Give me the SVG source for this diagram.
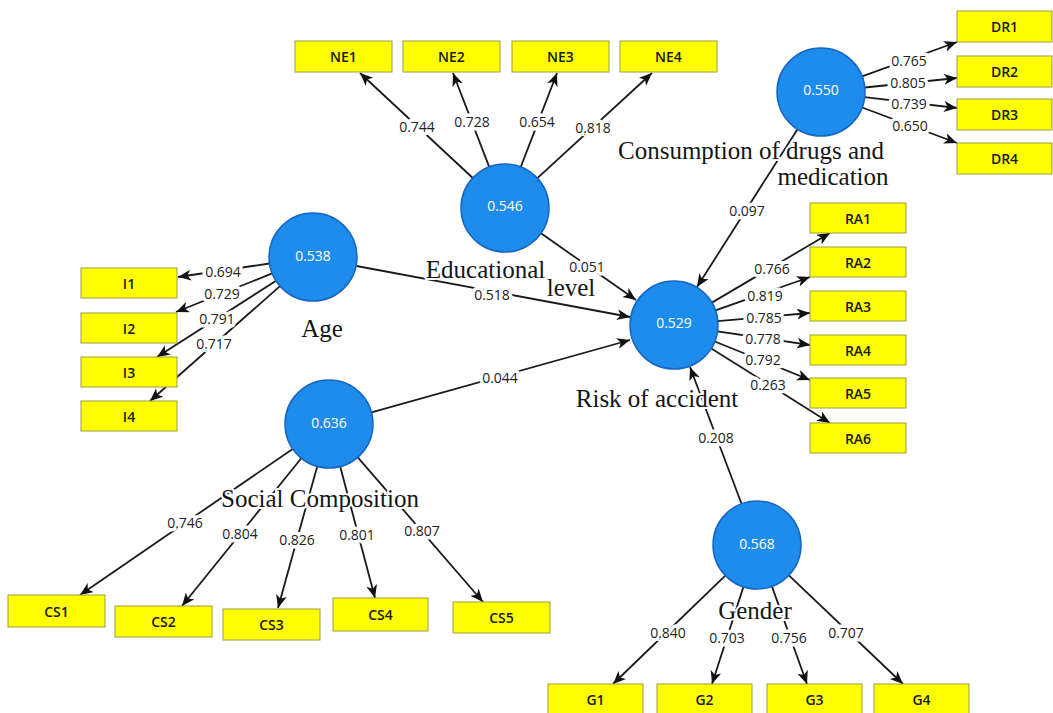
<svg xmlns="http://www.w3.org/2000/svg" width="1053" height="713" viewBox="0 0 1053 713">
<style>
.bg{fill:#ffffff}
.box{fill:#ffff00;stroke:#9c9c48;stroke-width:1}
.bt{font-family:"Open Sans","Noto Sans",sans-serif;font-size:14px;font-weight:600;fill:#1a1a1a;text-anchor:middle;dominant-baseline:central}
.lv{fill:#1e8ced;stroke:#1666c4;stroke-width:1.5}
.vt{font-family:"Open Sans","Noto Sans",sans-serif;font-size:14px;fill:#ffffff;text-anchor:middle;dominant-baseline:central}
.nm{font-family:"Liberation Serif","DejaVu Serif",serif;font-size:25px;fill:#151515;text-anchor:middle;paint-order:stroke;stroke:#ffffff;stroke-width:4;stroke-linejoin:round}
.c{stroke:#1a1a1a;stroke-width:1.8;fill:none;marker-end:url(#ah)}
.ld{font-family:"Open Sans","Noto Sans",sans-serif;font-size:14px;fill:#222;text-anchor:middle;dominant-baseline:central;paint-order:stroke;stroke:#ffffff;stroke-width:7;stroke-linejoin:round}
</style>
<defs>
<marker id="ah" markerUnits="userSpaceOnUse" markerWidth="14" markerHeight="12" refX="13" refY="5.5" orient="auto">
<path d="M0,0 L13,5.5 L0,11 L3.5,5.5 z" fill="#111"/>
</marker>
</defs>
<rect class="bg" x="0" y="0" width="1053" height="713"/>
<g id="connectors">
<line class="c" x1="472.8" y1="178" x2="360" y2="73"/>
<line class="c" x1="489.2" y1="166.9" x2="453" y2="73"/>
<line class="c" x1="520.8" y1="166.9" x2="557" y2="73"/>
<line class="c" x1="537.4" y1="178.2" x2="652" y2="73"/>
<line class="c" x1="862.1" y1="76.3" x2="957" y2="42"/>
<line class="c" x1="864.8" y1="87.5" x2="957" y2="78"/>
<line class="c" x1="864.7" y1="97.1" x2="957" y2="108"/>
<line class="c" x1="862.2" y1="107.5" x2="957" y2="143"/>
<line class="c" x1="269.5" y1="263.5" x2="178" y2="277"/>
<line class="c" x1="272.2" y1="273.4" x2="176" y2="312"/>
<line class="c" x1="276" y1="280.8" x2="157" y2="357"/>
<line class="c" x1="280" y1="286.1" x2="150" y2="401"/>
<line class="c" x1="711.9" y1="302.6" x2="830" y2="233"/>
<line class="c" x1="715.5" y1="310.3" x2="810" y2="277"/>
<line class="c" x1="717.8" y1="321.1" x2="810" y2="313"/>
<line class="c" x1="717.5" y1="331.4" x2="810" y2="345"/>
<line class="c" x1="714.8" y1="341.5" x2="810" y2="380"/>
<line class="c" x1="711.3" y1="348.4" x2="830" y2="423"/>
<line class="c" x1="725.3" y1="575.6" x2="613" y2="684"/>
<line class="c" x1="743.4" y1="586.9" x2="712" y2="684"/>
<line class="c" x1="771.9" y1="586.4" x2="807" y2="684"/>
<line class="c" x1="788.9" y1="575.3" x2="903" y2="684"/>
<line class="c" x1="292.7" y1="448.9" x2="80" y2="595"/>
<line class="c" x1="301.3" y1="458.2" x2="182" y2="606"/>
<line class="c" x1="317.2" y1="466.4" x2="278" y2="608"/>
<line class="c" x1="340.2" y1="466.5" x2="375" y2="598"/>
<line class="c" x1="357.8" y1="457.3" x2="483" y2="602"/>
<line class="c" x1="356.5" y1="266" x2="630" y2="317"/>
<line class="c" x1="541" y1="233.3" x2="636" y2="300"/>
<line class="c" x1="371.5" y1="412.3" x2="630" y2="340"/>
<line class="c" x1="797.5" y1="129.2" x2="697" y2="287"/>
<line class="c" x1="741.5" y1="503.8" x2="690" y2="367"/>
<text class="ld" x="417" y="126">0.744</text>
<text class="ld" x="472" y="121">0.728</text>
<text class="ld" x="537" y="121">0.654</text>
<text class="ld" x="593" y="127">0.818</text>
<text class="ld" x="909" y="60">0.765</text>
<text class="ld" x="908" y="82">0.805</text>
<text class="ld" x="909" y="103">0.739</text>
<text class="ld" x="910" y="125">0.650</text>
<text class="ld" x="223" y="271">0.694</text>
<text class="ld" x="222" y="293">0.729</text>
<text class="ld" x="217" y="318">0.791</text>
<text class="ld" x="214" y="343">0.717</text>
<text class="ld" x="772" y="268">0.766</text>
<text class="ld" x="765" y="295">0.819</text>
<text class="ld" x="764" y="317">0.785</text>
<text class="ld" x="763" y="338">0.778</text>
<text class="ld" x="763" y="359">0.792</text>
<text class="ld" x="768" y="384">0.263</text>
<text class="ld" x="668" y="632">0.840</text>
<text class="ld" x="727" y="637">0.703</text>
<text class="ld" x="789" y="637">0.756</text>
<text class="ld" x="846" y="632">0.707</text>
<text class="ld" x="185" y="522">0.746</text>
<text class="ld" x="240" y="533">0.804</text>
<text class="ld" x="297" y="539">0.826</text>
<text class="ld" x="357" y="534">0.801</text>
<text class="ld" x="422" y="530">0.807</text>
<text class="ld" x="492" y="294">0.518</text>
<text class="ld" x="587" y="266">0.051</text>
<text class="ld" x="500" y="377">0.044</text>
<text class="ld" x="747" y="210">0.097</text>
<text class="ld" x="716" y="437">0.208</text>
</g>
<g id="NE1"><rect class="box" x="295" y="41" width="97" height="31"/><text class="bt" x="343.5" y="56.5">NE1</text></g>
<g id="NE2"><rect class="box" x="403" y="41" width="97" height="31"/><text class="bt" x="451.5" y="56.5">NE2</text></g>
<g id="NE3"><rect class="box" x="512" y="41" width="97" height="31"/><text class="bt" x="560.5" y="56.5">NE3</text></g>
<g id="NE4"><rect class="box" x="620" y="41" width="97" height="31"/><text class="bt" x="668.5" y="56.5">NE4</text></g>
<g id="DR1"><rect class="box" x="957" y="11" width="95" height="31"/><text class="bt" x="1004.5" y="26.5">DR1</text></g>
<g id="DR2"><rect class="box" x="957" y="56" width="95" height="31"/><text class="bt" x="1004.5" y="71.5">DR2</text></g>
<g id="DR3"><rect class="box" x="957" y="99" width="95" height="31"/><text class="bt" x="1004.5" y="114.5">DR3</text></g>
<g id="DR4"><rect class="box" x="957" y="143" width="95" height="31"/><text class="bt" x="1004.5" y="158.5">DR4</text></g>
<g id="I1"><rect class="box" x="81" y="268" width="96" height="30"/><text class="bt" x="129" y="283">I1</text></g>
<g id="I2"><rect class="box" x="81" y="313" width="96" height="30"/><text class="bt" x="129" y="328">I2</text></g>
<g id="I3"><rect class="box" x="81" y="357" width="96" height="30"/><text class="bt" x="129" y="372">I3</text></g>
<g id="I4"><rect class="box" x="81" y="401" width="96" height="30"/><text class="bt" x="129" y="416">I4</text></g>
<g id="RA1"><rect class="box" x="810" y="203" width="96" height="30"/><text class="bt" x="858" y="218">RA1</text></g>
<g id="RA2"><rect class="box" x="810" y="247" width="96" height="30"/><text class="bt" x="858" y="262">RA2</text></g>
<g id="RA3"><rect class="box" x="810" y="291" width="96" height="30"/><text class="bt" x="858" y="306">RA3</text></g>
<g id="RA4"><rect class="box" x="810" y="335" width="96" height="30"/><text class="bt" x="858" y="350">RA4</text></g>
<g id="RA5"><rect class="box" x="810" y="378" width="96" height="30"/><text class="bt" x="858" y="393">RA5</text></g>
<g id="RA6"><rect class="box" x="810" y="423" width="96" height="30"/><text class="bt" x="858" y="438">RA6</text></g>
<g id="CS1"><rect class="box" x="8" y="595" width="97" height="32"/><text class="bt" x="56.5" y="611">CS1</text></g>
<g id="CS2"><rect class="box" x="115" y="606" width="97" height="31"/><text class="bt" x="163.5" y="621.5">CS2</text></g>
<g id="CS3"><rect class="box" x="223" y="609" width="97" height="31"/><text class="bt" x="271.5" y="624.5">CS3</text></g>
<g id="CS4"><rect class="box" x="333" y="598" width="95" height="33"/><text class="bt" x="380.5" y="614.5">CS4</text></g>
<g id="CS5"><rect class="box" x="453" y="602" width="97" height="31"/><text class="bt" x="501.5" y="617.5">CS5</text></g>
<g id="G1"><rect class="box" x="548" y="684" width="95" height="31"/><text class="bt" x="595.5" y="699.5">G1</text></g>
<g id="G2"><rect class="box" x="657" y="684" width="95" height="31"/><text class="bt" x="704.5" y="699.5">G2</text></g>
<g id="G3"><rect class="box" x="767" y="684" width="95" height="31"/><text class="bt" x="814.5" y="699.5">G3</text></g>
<g id="G4"><rect class="box" x="874" y="684" width="95" height="31"/><text class="bt" x="921.5" y="699.5">G4</text></g>
<g id="EducationalLevel"><circle class="lv" cx="505" cy="208" r="44"/><text class="vt" x="505" y="205">0.546</text><text class="nm" x="485.5" y="278">Educational</text><text class="nm" x="571" y="296">level</text></g>
<g id="ConsumptionDrugs"><circle class="lv" cx="821" cy="92" r="44"/><text class="vt" x="821" y="89">0.550</text><text class="nm" x="751" y="159">Consumption of drugs and</text><text class="nm" x="833" y="185">medication</text></g>
<g id="Age"><circle class="lv" cx="313" cy="257" r="44"/><text class="vt" x="313" y="255">0.538</text><text class="nm" x="322" y="337">Age</text></g>
<g id="RiskOfAccident"><circle class="lv" cx="674" cy="325" r="44"/><text class="vt" x="674" y="322">0.529</text><text class="nm" x="657" y="407">Risk of accident</text></g>
<g id="SocialComposition"><circle class="lv" cx="329" cy="424" r="44"/><text class="vt" x="329" y="422">0.636</text><text class="nm" x="320" y="507">Social Composition</text></g>
<g id="Gender"><circle class="lv" cx="757" cy="545" r="44"/><text class="vt" x="757" y="543">0.568</text><text class="nm" x="755" y="619">Gender</text></g>
</svg>
